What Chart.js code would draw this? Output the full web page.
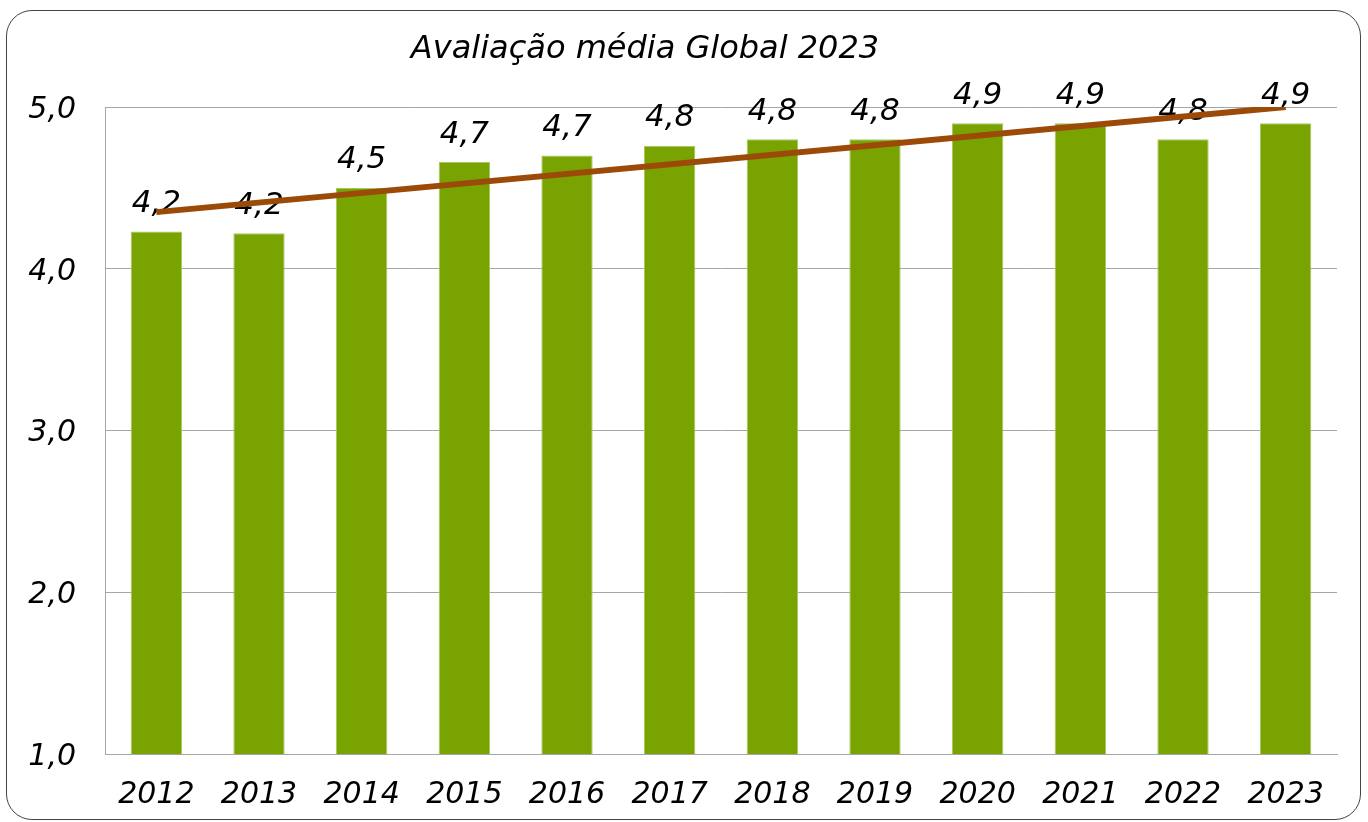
<!DOCTYPE html>
<html>
<head>
<meta charset="utf-8">
<script src="https://cdn.jsdelivr.net/npm/chart.js@4"></script>
<style>
  html, body { margin: 0; padding: 0; background: #fff; }
  #wrap { position: relative; width: 1368px; height: 822px; overflow: hidden; }
  #frame {
    position: absolute; left: 6px; top: 10px; width: 1355px; height: 810px;
    border: 1px solid #444; border-radius: 26px; box-sizing: border-box;
  }
  canvas { position: absolute; left: 0; top: 0; }
</style>
</head>
<body>
<div id="wrap">
  <div id="frame"></div>
  <canvas id="chart" width="1368" height="822"></canvas>
</div>
<script>
'use strict';

let chartTitle = 'Avaliação média Global 2023';
let years = ['2012', '2013', '2014', '2015', '2016', '2017', '2018', '2019', '2020', '2021', '2022', '2023'];
let ratings = [4.23, 4.22, 4.50, 4.66, 4.70, 4.76, 4.80, 4.80, 4.90, 4.90, 4.80, 4.90];
// trend line: start (2012) and end (2023)
let trend = [4.35, null, null, null, null, null, null, null, null, null, null, 5.0];
let yTicks = [1, 2, 3, 4, 5];

let fontFamily = '"DejaVu Sans", sans-serif';

function fmt(v) {
  return v.toFixed(1).replace('.', ',');
}

// value labels above the bars, drawn before the trend line so it passes over them
let barLabels = {
  id: 'barLabels',
  afterDatasetDraw(chart, args) {
    if (args.index !== 0) return;
    let ctx = chart.ctx;
    ctx.save();
    ctx.font = 'italic 31px ' + fontFamily;
    ctx.fillStyle = '#000';
    ctx.textAlign = 'center';
    ctx.textBaseline = 'bottom';
    args.meta.data.forEach(function (bar, i) {
      ctx.fillText(fmt(ratings[i]), bar.x, bar.y - 12);
    });
    ctx.restore();
  }
};

// title sits a bit left of the canvas centre in the original
let titleText = {
  id: 'titleText',
  afterDraw(chart) {
    let ctx = chart.ctx;
    ctx.save();
    ctx.font = 'italic 32px ' + fontFamily;
    ctx.fillStyle = '#000';
    ctx.textAlign = 'center';
    ctx.textBaseline = 'middle';
    ctx.fillText(chartTitle, 645, 50);
    ctx.restore();
  }
};

let ctx = document.getElementById('chart').getContext('2d');
let myChart = new Chart(ctx, {
  type: 'bar',
  data: {
    labels: years,
    datasets: [{
      label: 'Avaliação média',
      data: ratings,
      backgroundColor: '#78a300',
      borderColor: '#a6c862',
      borderWidth: 1,
      barPercentage: 0.5,
      categoryPercentage: 1,
      order: 1
    }, {
      type: 'line',
      label: 'Tendência',
      data: trend,
      borderColor: '#9c4a08',
      borderWidth: 6,
      pointRadius: 0,
      spanGaps: true,
      order: 0
    }]
  },
  options: {
    responsive: false,
    animation: false,
    layout: { padding: { left: 0, right: 31, top: 107, bottom: 0 } },
    plugins: {
      legend: { display: false },
      tooltip: { enabled: false },
      title: { display: false }
    },
    scales: {
      x: {
        grid: { display: false, drawTicks: false },
        border: { display: true, color: '#a6a6a6', width: 1 },
        ticks: {
          color: '#000',
          padding: 23,
          maxRotation: 0,
          font: { family: fontFamily, size: 30, style: 'italic' }
        },
        afterFit(scale) { scale.height = 68; }
      },
      y: {
        min: 1,
        max: 5,
        afterBuildTicks(scale) {
          scale.ticks = yTicks.map(function (v) { return { value: v }; });
        },
        grid: { color: '#a6a6a6', lineWidth: 1, drawTicks: false },
        border: { display: true, color: '#a6a6a6', width: 1 },
        ticks: {
          color: '#000',
          padding: 29,
          labelOffset: 3,
          callback: function (v) { return fmt(v); },
          font: { family: fontFamily, size: 30, style: 'italic' }
        },
        afterFit(scale) { scale.width = 105; }
      }
    }
  },
  plugins: [barLabels, titleText]
});
</script>
</body>
</html>
